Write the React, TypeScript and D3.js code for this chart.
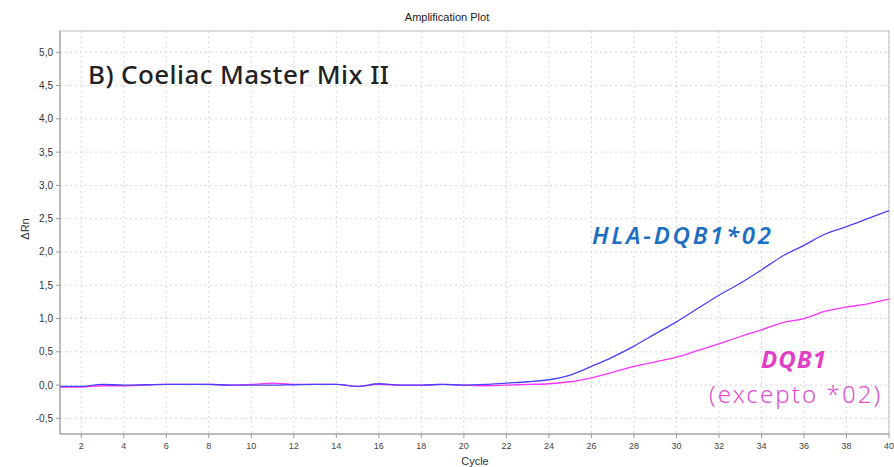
import React from "react";
import * as d3 from "d3";

const cycles = [1,2,3,4,5,6,7,8,9,10,11,12,13,14,15,16,17,18,19,20,21,22,23,24,25,26,27,28,29,30,31,32,33,34,35,36,37,38,39,40];
const hlaDqb102 = [-0.02,-0.02,0.01,0.0,0.005,0.01,0.01,0.01,0.0,0.0,0.0,0.005,0.01,0.01,-0.02,0.02,0.0,0.0,0.01,0.0,0.01,0.03,0.05,0.08,0.15,0.28,0.42,0.585,0.77,0.95,1.15,1.35,1.53,1.73,1.94,2.1,2.27,2.38,2.5,2.62];
const dqb1Other = [-0.03,-0.03,-0.01,-0.01,0.0,0.01,0.01,0.01,0.0,0.01,0.03,0.01,0.01,0.01,-0.02,0.01,0.0,0.0,0.01,0.0,-0.01,0.0,0.01,0.02,0.05,0.11,0.19,0.28,0.35,0.42,0.52,0.62,0.73,0.83,0.94,1.0,1.11,1.17,1.22,1.29];
const xTicks = [2,4,6,8,10,12,14,16,18,20,22,24,26,28,30,32,34,36,38,40];
const yTicks = [-0.5,0,0.5,1,1.5,2,2.5,3,3.5,4,4.5,5];

const W = 894, H = 467;
const L = 60, R = 889, T = 31, B = 434;

export default function App() {
  const x = d3.scaleLinear().domain([1, 40]).range([L, R]);
  const y = d3.scaleLinear().domain([-0.735, 5.32]).range([B, T]);
  const line = d3.line<number>().x((_, i) => x(cycles[i])).y((d) => y(d)).curve(d3.curveMonotoneX);
  const fmt = (v: number) => v.toFixed(1).replace(".", ",");
  const ann = "Noto Sans, Open Sans, sans-serif";
  return (
    <svg width={W} height={H} style={{ position: "absolute", left: 0, top: 0, background: "#fff" }}>
      <text x={447} y={21} textAnchor="middle" fontFamily="Liberation Sans, Arial" fontSize={11} fill="#222">Amplification Plot</text>
      {xTicks.map((t) => (
        <line key={"gx" + t} x1={x(t)} x2={x(t)} y1={T} y2={B} stroke="#d8d8d8" strokeDasharray="2,3" />
      ))}
      {yTicks.map((t) => (
        <line key={"gy" + t} x1={L} x2={R} y1={y(t)} y2={y(t)} stroke="#d8d8d8" strokeDasharray="2,3" />
      ))}
      <rect x={L} y={T} width={R - L} height={B - T} fill="none" stroke="#bbb" strokeWidth={1} />
      <line x1={L} x2={L} y1={T} y2={B} stroke="#999" />
      <line x1={L} x2={R} y1={B} y2={B} stroke="#999" />
      {yTicks.map((t) => (
        <g key={"yt" + t}>
          <line x1={L - 4} x2={L} y1={y(t)} y2={y(t)} stroke="#999" />
          <text x={L - 7} y={y(t) + 3.5} textAnchor="end" fontFamily="Liberation Sans, Arial" fontSize={10} fill="#333">{fmt(t)}</text>
        </g>
      ))}
      {xTicks.map((t) => (
        <g key={"xt" + t}>
          <line x1={x(t)} x2={x(t)} y1={B} y2={B + 4} stroke="#999" />
          <text x={x(t)} y={B + 15} textAnchor="middle" fontFamily="Liberation Sans, Arial" fontSize={9} fill="#444">{t}</text>
        </g>
      ))}
      <text x={475} y={465} textAnchor="middle" fontFamily="Liberation Sans, Arial" fontSize={11} fill="#333">Cycle</text>
      <text transform="translate(29,229) rotate(-90)" textAnchor="middle" fontFamily="Liberation Sans, Arial" fontSize={11} fill="#333">ΔRn</text>
      <path d={line(dqb1Other) || ""} fill="none" stroke="#ff33ff" strokeWidth={1.3} />
      <path d={line(hlaDqb102) || ""} fill="none" stroke="#4a40ff" strokeWidth={1.3} />
      <text x={88} y={84} fontFamily={ann} fontWeight={500} fontSize={26} letterSpacing={0.4} fill="#222">B) Coeliac Master Mix II</text>
      <text x={592} y={244} fontFamily={ann} fontStyle="italic" fontWeight={600} fontSize={24} letterSpacing={2.7} fill="#1c6fc2">HLA-DQB1*02</text>
      <text x={761} y={368} fontFamily={ann} fontStyle="italic" fontWeight={700} fontSize={24} letterSpacing={1} fill="#e040c8">DQB1</text>
      <text x={709} y={403} fontFamily={ann} fontWeight={300} fontSize={24} letterSpacing={2.1} fill="#e050d0">(excepto *02)</text>
    </svg>
  );
}
